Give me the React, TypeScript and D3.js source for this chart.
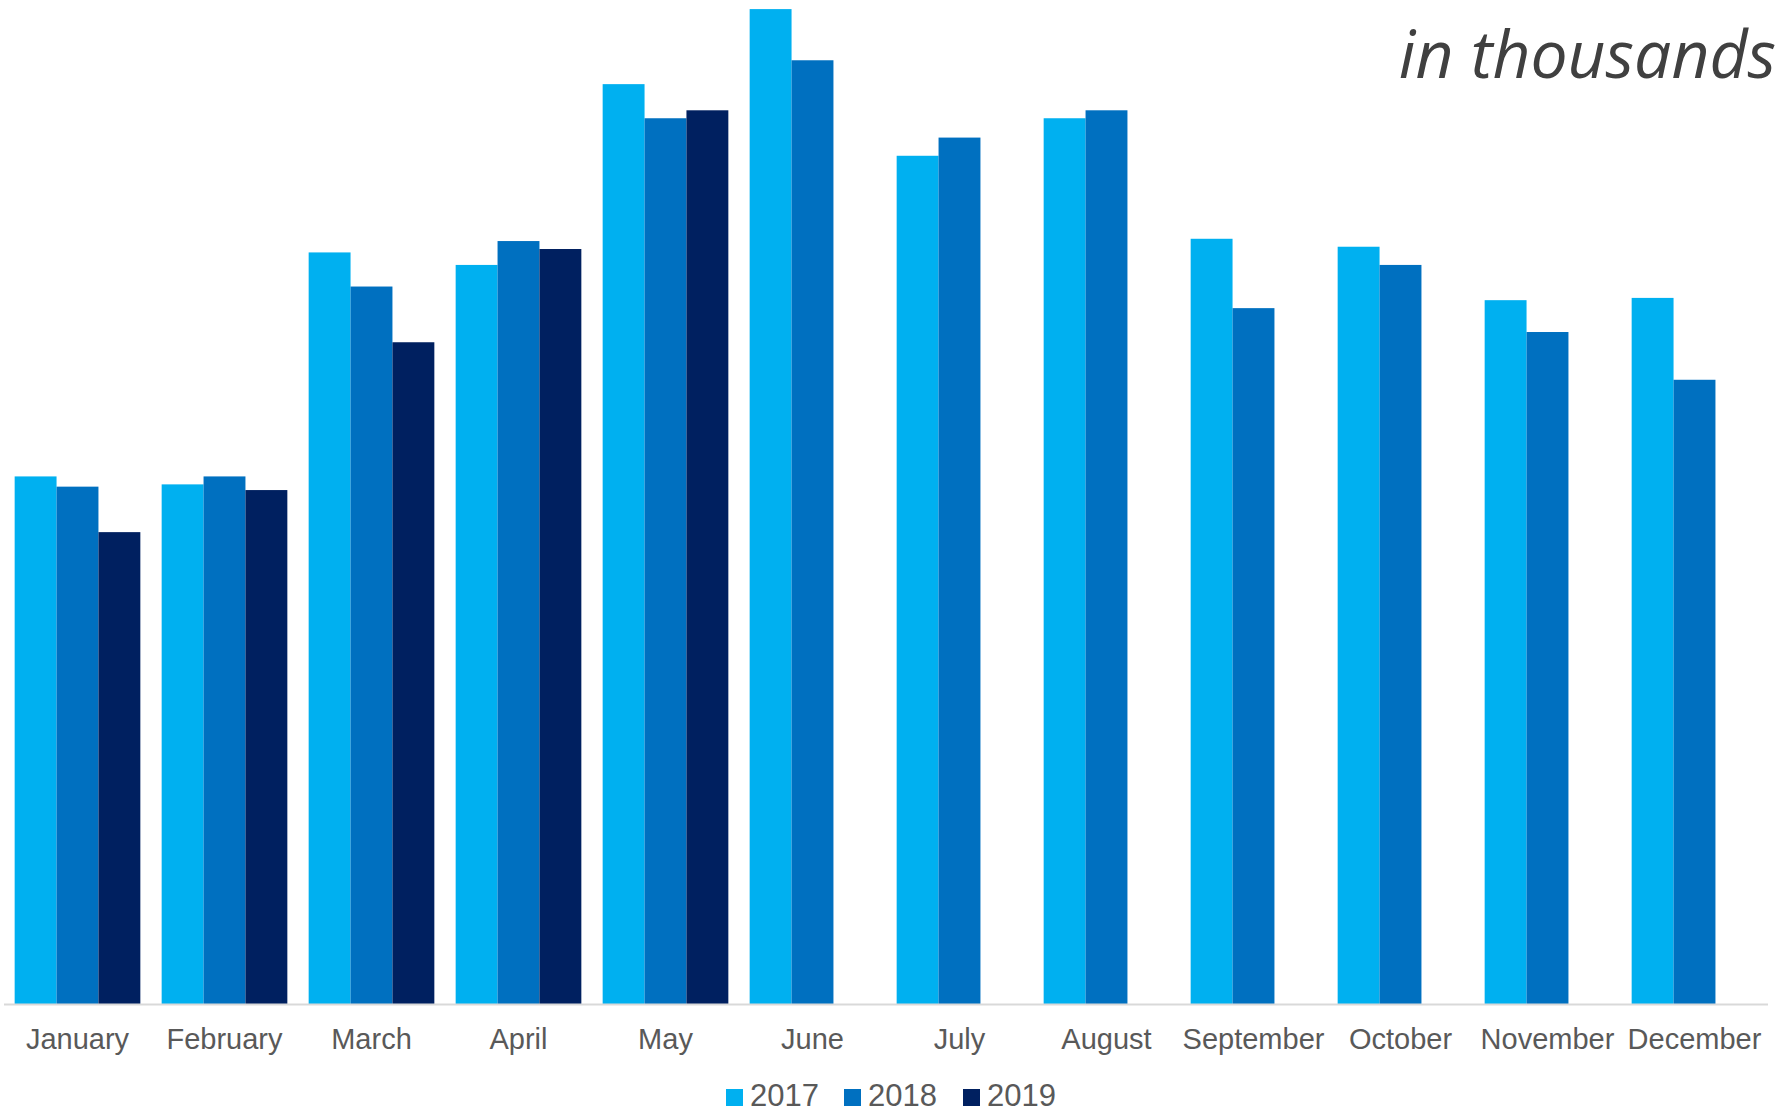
import React from "react";
import * as d3 from "d3";

const months = ["January","February","March","April","May","June","July","August","September","October","November","December"];
const seriesNames = ["2017", "2018", "2019"];
const colors = ["#00B0F0", "#0070C0", "#002060"];
const values2017 = [464, 457, 661, 650, 809, 875, 746, 779, 673, 666, 619, 621];
const values2018 = [455, 464, 631, 671, 779, 830, 762, 786, 612, 650, 591, 549];
const values2019: (number | null)[] = [415, 452, 582, 664, 786, null, null, null, null, null, null, null];

const W = 1783, H = 1111;
const baseY = 1004;
const left = 4, right = 1768;

export default function App() {
  const x = d3.scaleBand<string>().domain(months).range([left, right]).paddingInner(0.145).paddingOuter(0.0725);
  const xs = d3.scaleBand<string>().domain(seriesNames).range([0, x.bandwidth()]);
  const y = d3.scaleLinear().domain([0, 883]).range([baseY, 0]);
  const all = [values2017, values2018, values2019];

  const legendX = [726, 844, 963];

  return (
    <svg width={W} height={H} style={{ position: "absolute", left: 0, top: 0, background: "#fff" }}>
      {all.map((vals, si) =>
        vals.map((v, i) =>
          v == null ? null : (
            <rect
              key={`${si}-${i}`}
              x={(x(months[i]) as number) + (xs(seriesNames[si]) as number)}
              y={y(v)}
              width={xs.bandwidth()}
              height={baseY - y(v)}
              fill={colors[si]}
            />
          )
        )
      )}
      <line x1={left} x2={right} y1={baseY + 0.5} y2={baseY + 0.5} stroke="#d9d9d9" strokeWidth={2} />
      {months.map((m) => (
        <text
          key={m}
          x={(x(m) as number) + x.bandwidth() / 2}
          y={1049}
          textAnchor="middle"
          fontFamily="'Liberation Sans', Arial, sans-serif"
          fontSize={29}
          fill="#595959"
        >
          {m}
        </text>
      ))}
      {seriesNames.map((s, i) => (
        <g key={s}>
          <rect x={legendX[i]} y={1089} width={17} height={17} fill={colors[i]} />
          <text x={legendX[i] + 24} y={1106} fontFamily="'Liberation Sans', Arial, sans-serif" fontSize={31} fill="#595959">
            {s}
          </text>
        </g>
      ))}
      <text
        x={1776}
        y={78}
        textAnchor="end"
        fontFamily="'Open Sans', sans-serif"
        fontStyle="italic"
        fontSize={66}
        fill="#404040"
      >
        in thousands
      </text>
    </svg>
  );
}
